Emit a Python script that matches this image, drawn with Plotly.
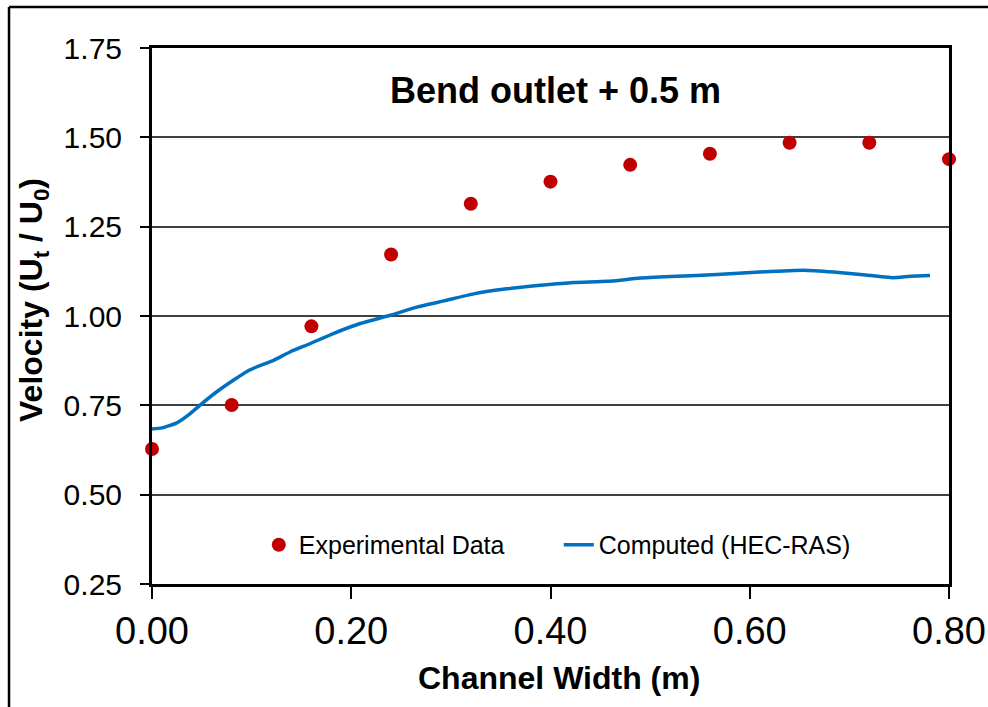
import plotly.graph_objects as go

# Experimental data (channel width, m ; velocity ratio Ut/U0)
exp_x = [0.00, 0.08, 0.16, 0.24, 0.32, 0.40, 0.48, 0.56, 0.64, 0.72, 0.80]
exp_v = [0.628, 0.751, 0.971, 1.172, 1.314, 1.376, 1.423, 1.454, 1.485, 1.485, 1.439]

# Computed (HEC-RAS) profile
comp_x = [0.000, 0.010, 0.025, 0.038, 0.048, 0.065, 0.082, 0.098, 0.122, 0.139,
          0.159, 0.182, 0.209, 0.239, 0.266, 0.294, 0.323, 0.356, 0.390, 0.423,
          0.457, 0.490, 0.527, 0.567, 0.610, 0.654, 0.684, 0.711, 0.744, 0.761, 0.781]
comp_v = [0.684, 0.687, 0.701, 0.726, 0.750, 0.788, 0.821, 0.849, 0.876, 0.900,
          0.923, 0.951, 0.979, 1.002, 1.025, 1.043, 1.062, 1.076, 1.086, 1.094,
          1.097, 1.106, 1.111, 1.116, 1.123, 1.128, 1.123, 1.116, 1.107, 1.111, 1.113]

x_ticks = [0.0, 0.2, 0.4, 0.6, 0.8]
x_tick_labels = ["0.00", "0.20", "0.40", "0.60", "0.80"]
y_ticks = [0.25, 0.50, 0.75, 1.00, 1.25, 1.50, 1.75]
y_tick_labels = ["0.25", "0.50", "0.75", "1.00", "1.25", "1.50", "1.75"]

title_text = "Bend outlet + 0.5 m"
x_title = "Channel Width (m)"
y_title = "Velocity (U<sub>t</sub> / U<sub>0</sub>)"

FONT = "Liberation Sans, Arial, sans-serif"

fig = go.Figure()
fig.add_trace(go.Scatter(
    x=exp_x, y=exp_v, mode="markers", name="Experimental Data",
    marker=dict(color="#C00000", size=14), cliponaxis=False))
fig.add_trace(go.Scatter(
    x=comp_x, y=comp_v, mode="lines", name="Computed (HEC-RAS)",
    line=dict(color="#0070C0", width=3.5, shape="spline", smoothing=0.5)))

fig.update_layout(
    width=988, height=707, autosize=False,
    margin=dict(l=152, r=39, t=48, b=123, autoexpand=False),
    paper_bgcolor="white", plot_bgcolor="white",
    font=dict(family=FONT, color="black"),
    showlegend=True,
    legend=dict(orientation="h", x=0.134, xanchor="left", y=0.0728, yanchor="middle",
                bgcolor="rgba(0,0,0,0)", font=dict(size=25, family=FONT, color="black"),
                entrywidth=255, entrywidthmode="pixels"),
    xaxis=dict(range=[0, 0.8], tickvals=x_ticks, ticktext=x_tick_labels,
               ticks="outside", ticklen=12, tickwidth=1.5, tickcolor="black",
               showline=True, linecolor="black", linewidth=2.5, mirror=True,
               showgrid=False, zeroline=False, automargin=False,
               tickfont=dict(size=38, family=FONT, color="black")),
    yaxis=dict(range=[0.25, 1.75], tickvals=y_ticks, ticktext=y_tick_labels,
               ticks="outside", ticklen=9, tickwidth=1.5, tickcolor="black",
               showline=True, linecolor="black", linewidth=3, mirror=True,
               showgrid=True, gridcolor="#404040", gridwidth=1.5, zeroline=False,
               ticklabelstandoff=12, automargin=False,
               tickfont=dict(size=30, family=FONT, color="black")),
    yaxis2=dict(range=[0.25, 1.75], overlaying="y", anchor="x", side="left",
                tickvals=y_ticks, ticks="inside", ticklen=7, tickwidth=1.5,
                tickcolor="black", showticklabels=False, showgrid=False,
                showline=False, zeroline=False, automargin=False),
)

fig.add_annotation(text="<b>" + title_text + "</b>", xref="paper", yref="paper",
                   x=0.506, y=0.9216, xanchor="center", yanchor="middle",
                   showarrow=False, font=dict(size=36, family=FONT, color="black"))
fig.add_annotation(text="<b>" + x_title + "</b>", xref="paper", yref="paper",
                   x=0.5107, y=-0.1754, xanchor="center", yanchor="middle",
                   showarrow=False, font=dict(size=32, family=FONT, color="black"))
fig.add_annotation(text="<b>" + y_title + "</b>", xref="paper", yref="paper",
                   x=-0.148, y=0.53, xanchor="center", yanchor="middle", textangle=-90,
                   showarrow=False, font=dict(size=32, family=FONT, color="black"))

# outer chart frame: top and left edges (right/bottom lie beyond the page)
fig.add_shape(type="line", xref="paper", yref="paper",
              x0=-0.1794, x1=1.2, y0=1.0765, y1=1.0765,
              line=dict(color="black", width=2.5), layer="above")
fig.add_shape(type="line", xref="paper", yref="paper",
              x0=-0.1794, x1=-0.1794, y0=-0.4, y1=1.0765,
              line=dict(color="black", width=2.5), layer="above")

fig.write_html("out.html",
               config={"displayModeBar": False},
               post_script="document.body.style.margin='0';"
                           "document.body.style.overflow='hidden';")
